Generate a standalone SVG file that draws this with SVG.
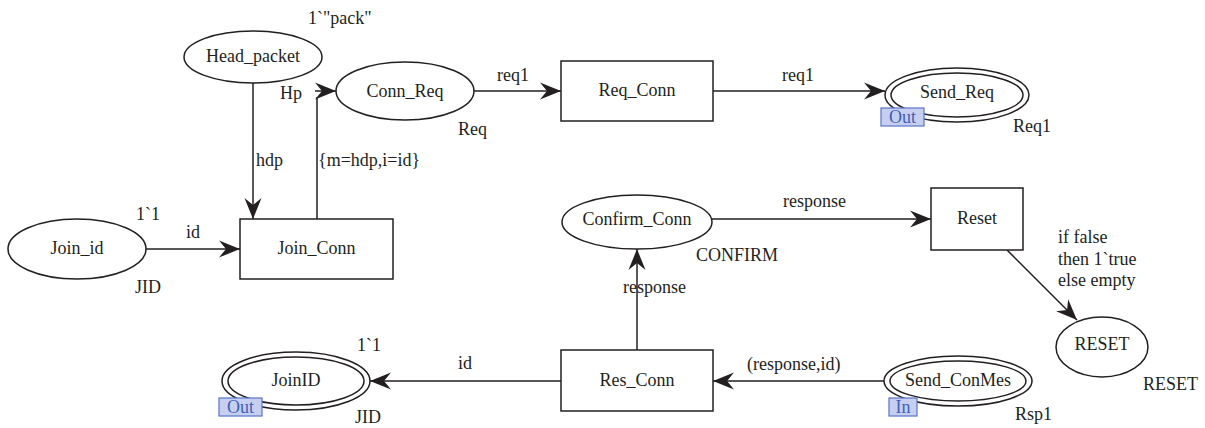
<svg xmlns="http://www.w3.org/2000/svg" width="1205" height="428" viewBox="0 0 1205 428">
  <style>
    text { font-family: "Liberation Serif", "Times New Roman", serif; font-size: 18px; fill: #231f20; }
    .mid { text-anchor: middle; }
    .place, .trans { fill: #ffffff; stroke: #231f20; stroke-width: 1.5; }
    .arc { fill: none; stroke: #231f20; stroke-width: 1.5; marker-end: url(#head); }
    .port { fill: #c6cff0; stroke: #5a73c6; stroke-width: 1.2; }
    .port-text { fill: #3f5fb5; font-size: 18px; }
  </style>
  <defs>
    <marker id="head" markerUnits="userSpaceOnUse" viewBox="-23 -10 24 20" refX="0" refY="0" markerWidth="24" markerHeight="20" orient="auto">
      <path d="M0,0 L-21,-8.5 L-14,0 L-21,8.5 Z" fill="#231f20"/>
    </marker>
  </defs>

  <!-- connectors -->
  <g id="arcs">
    <path class="arc" d="M253,83 L253,219"/>
    <path class="arc" d="M317,219 L317,97 M315,91 L336,91"/>
    <path class="arc" d="M146,249 L240,249"/>
    <path class="arc" d="M474,91 L561,91"/>
    <path class="arc" d="M713,91 L885,91"/>
    <path class="arc" d="M712,219 L931,219"/>
    <path class="arc" d="M1007,250 L1077,320"/>
    <path class="arc" d="M637,350 L637,249"/>
    <path class="arc" d="M561,381 L370,381"/>
    <path class="arc" d="M884,381 L713,381"/>
  </g>

  <!-- arc inscriptions -->
  <g id="arc-labels">
    <text x="256" y="166">hdp</text>
    <text x="318" y="166">{m=hdp,i=id}</text>
    <text x="186" y="238">id</text>
    <text x="497" y="81">req1</text>
    <text x="782" y="81">req1</text>
    <text x="783" y="207">response</text>
    <text x="623" y="293">response</text>
    <text x="1058" y="243">if false</text>
    <text x="1058" y="265">then 1`true</text>
    <text x="1058" y="286">else empty</text>
    <text x="458" y="369">id</text>
    <text x="747" y="370">(response,id)</text>
  </g>

  <!-- places -->
  <g id="Head_packet">
    <ellipse class="place" cx="253" cy="57" rx="69" ry="26"/>
    <text class="mid" x="253" y="62">Head_packet</text>
    <text x="308" y="24">1`"pack"</text>
    <text x="280" y="99">Hp</text>
  </g>
  <g id="Conn_Req">
    <ellipse class="place" cx="405" cy="91" rx="69" ry="29"/>
    <text class="mid" x="405" y="97">Conn_Req</text>
    <text x="458" y="135">Req</text>
  </g>
  <g id="Send_Req">
    <ellipse class="place" cx="957" cy="95" rx="72" ry="27"/>
    <ellipse class="place" cx="957" cy="95" rx="66" ry="22"/>
    <text class="mid" x="957" y="98">Send_Req</text>
    <rect class="port" x="881" y="108" width="43" height="18"/>
    <text class="port-text mid" x="902.5" y="123">Out</text>
    <text x="1013" y="132">Req1</text>
  </g>
  <g id="Join_id">
    <ellipse class="place" cx="77" cy="249" rx="69" ry="30"/>
    <text class="mid" x="77" y="254">Join_id</text>
    <text x="136" y="220">1`1</text>
    <text x="135" y="293">JID</text>
  </g>
  <g id="Confirm_Conn">
    <ellipse class="place" cx="637" cy="222" rx="75" ry="27"/>
    <text class="mid" x="637" y="225">Confirm_Conn</text>
    <text x="696" y="261">CONFIRM</text>
  </g>
  <g id="RESET">
    <ellipse class="place" cx="1102" cy="347" rx="46" ry="30"/>
    <text class="mid" x="1102" y="350">RESET</text>
    <text x="1143" y="390">RESET</text>
  </g>
  <g id="JoinID">
    <ellipse class="place" cx="296" cy="381" rx="74" ry="29"/>
    <ellipse class="place" cx="296" cy="381" rx="68" ry="24"/>
    <text class="mid" x="296" y="386">JoinID</text>
    <rect class="port" x="219" y="398" width="43" height="18"/>
    <text class="port-text mid" x="240.5" y="413">Out</text>
    <text x="357" y="351">1`1</text>
    <text x="355" y="423">JID</text>
  </g>
  <g id="Send_ConMes">
    <ellipse class="place" cx="958" cy="381" rx="74" ry="25"/>
    <ellipse class="place" cx="958" cy="381" rx="68" ry="20"/>
    <text class="mid" x="958" y="386">Send_ConMes</text>
    <rect class="port" x="889" y="398" width="28" height="18"/>
    <text class="port-text mid" x="903" y="413">In</text>
    <text x="1015" y="420">Rsp1</text>
  </g>

  <!-- transitions -->
  <g id="Join_Conn">
    <rect class="trans" x="240" y="219" width="153" height="60"/>
    <text class="mid" x="316.5" y="254">Join_Conn</text>
  </g>
  <g id="Req_Conn">
    <rect class="trans" x="561" y="61" width="152" height="60"/>
    <text class="mid" x="637" y="96">Req_Conn</text>
  </g>
  <g id="Reset">
    <rect class="trans" x="931" y="188" width="92" height="62"/>
    <text class="mid" x="977" y="224">Reset</text>
  </g>
  <g id="Res_Conn">
    <rect class="trans" x="561" y="350" width="152" height="61"/>
    <text class="mid" x="637" y="386">Res_Conn</text>
  </g>
</svg>
